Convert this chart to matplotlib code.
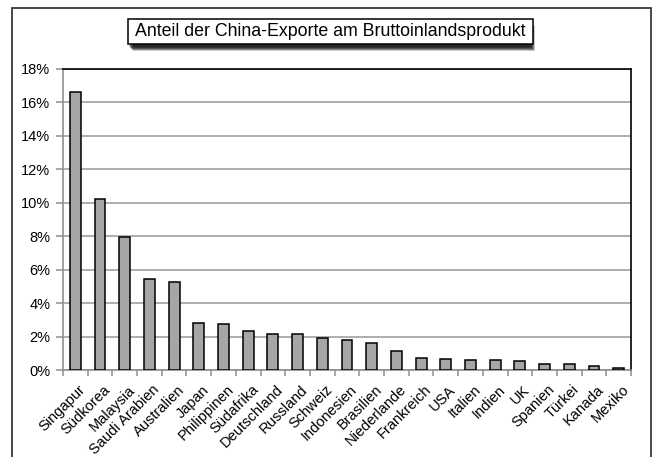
import matplotlib
matplotlib.use("Agg")
import matplotlib.pyplot as plt
from matplotlib.patches import Rectangle
from matplotlib.ticker import FixedLocator, PercentFormatter
import matplotlib.transforms as mtransforms

plt.rcParams['font.family'] = ['Liberation Sans', 'DejaVu Sans']

countries = ["Singapur", "Südkorea", "Malaysia", "Saudi Arabien", "Australien",
             "Japan", "Philippinen", "Südafrika", "Deutschland", "Russland",
             "Schweiz", "Indonesien", "Brasilien", "Niederlande", "Frankreich",
             "USA", "Italien", "Indien", "UK", "Spanien", "Türkei", "Kanada", "Mexiko"]
shares = [16.65, 10.25, 7.94, 5.47, 5.25, 2.79, 2.75, 2.33, 2.17, 2.15,
          1.91, 1.80, 1.60, 1.12, 0.72, 0.68, 0.62, 0.58, 0.56, 0.36, 0.34, 0.24, 0.12]
yticks = [0, 2, 4, 6, 8, 10, 12, 14, 16, 18]
title = "Anteil der China-Exporte am Bruttoinlandsprodukt"

W, H = 652, 457
fig = plt.figure(figsize=(W / 100, H / 100), dpi=100)
fig.patch.set_facecolor('white')

# outer frame
fig.patches.append(Rectangle((12, -10), 639, H - 8 + 10, transform=None,
                             fill=False, edgecolor='#3a3a3a', lw=1.3))

ax = fig.add_axes([63 / W, 1 - 370 / H, (631 - 63) / W, (370 - 69) / H])
x = list(range(len(countries)))
ax.bar(x, shares, width=0.44, color='#a6a6a6', edgecolor='black', linewidth=1.1, zorder=3)

ax.set_xlim(-0.5, len(countries) - 0.5)
ax.set_ylim(0, 18)
ax.set_yticks(yticks)
ax.yaxis.set_major_formatter(PercentFormatter(decimals=0))
ax.yaxis.grid(True, color='#a0a0a0', lw=1.2, zorder=0)

ax.set_xticks(x)
ax.set_xticklabels(countries, rotation=45, ha='right', va='top', rotation_mode='anchor',
                   fontsize=10.5)
ax.xaxis.set_minor_locator(FixedLocator([i - 0.5 for i in range(len(countries) + 1)]))
ax.tick_params(axis='x', which='major', length=0, pad=9)
ax.tick_params(axis='x', which='minor', length=4, color='#909090', width=1.1)
ax.tick_params(axis='y', length=5, color='#909090', width=1.1, labelsize=10.5, pad=4)
offset = mtransforms.ScaledTranslation(3 / 100, 0, fig.dpi_scale_trans)
for lab in ax.get_xticklabels():
    lab.set_transform(lab.get_transform() + offset)

for s in ['top', 'right']:
    ax.spines[s].set_color('black')
    ax.spines[s].set_linewidth(1.2)
for s in ['left', 'bottom']:
    ax.spines[s].set_color('#909090')
    ax.spines[s].set_linewidth(1.2)

# title box with blurred shadow
bx, by, bw, bh = 128, H - 44, 405, 25
for i in range(8):
    g = 8 - i
    fig.patches.append(Rectangle((bx + 3 - g * 0.5 + 2, by - 7 + g * 0.5), bw - 3, bh,
                                 transform=None, facecolor='black', edgecolor='none',
                                 alpha=0.2))
fig.patches.append(Rectangle((bx, by), bw, bh, transform=None, facecolor='white',
                             edgecolor='black', lw=1.1))
fig.text((bx + bw / 2) / W, (by + bh / 2) / H, title, ha='center', va='center',
         fontsize=12.8)

fig.savefig('out.png', dpi=100)
